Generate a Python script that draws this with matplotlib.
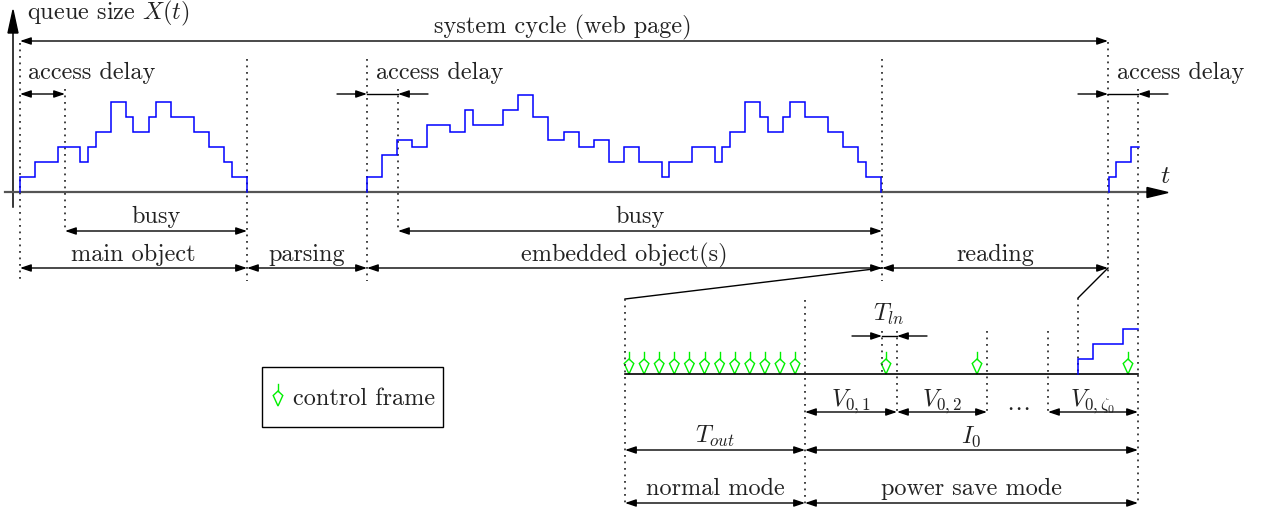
import matplotlib
matplotlib.use("Agg")
import matplotlib.pyplot as plt
from matplotlib.patches import Rectangle, Polygon

plt.rcParams.update({
    "font.family": "cmr10",
    "mathtext.fontset": "cm",
    "axes.unicode_minus": False,
})

FS = 17.5
INK = "#222222"
BLUE = "#0000ff"
GREEN = "#00f000"

# ---- queue traces: slot edges (slot index) and queue size per slot ----------
MAIN_EDGES = [0, 2, 5, 8, 9, 10, 12, 14, 15, 17, 18, 20, 23, 25, 27, 28, 30]
MAIN_LEVELS = [2, 4, 6, 4, 6, 8, 12, 10, 8, 10, 12, 10, 8, 6, 4, 2]
EMB_EDGES = [0, 2, 4, 6, 8, 11, 13, 14, 18, 20, 22, 24, 26, 28, 30, 32, 34,
             36, 39, 40, 43, 46, 47, 48, 50, 52, 53, 55, 56, 58, 61, 63, 65,
             66, 68]
EMB_LEVELS = [2, 5, 7, 6, 9, 8, 11, 9, 11, 13, 10, 7, 8, 6, 7, 4, 6, 4, 2, 4,
              6, 4, 6, 8, 12, 10, 8, 10, 12, 10, 8, 6, 4, 2]
NEXT_EDGES = [0, 1, 3, 4]
NEXT_LEVELS = [2, 4, 6]

# control frames: normal mode beacons (every slot pair) and power-save ones
CF_NORMAL = list(range(12))
CF_PSM = [886, 977, 1128]

# time marks of the cycle on the top axis
T_START, T_MAIN_END, T_EMB_START, T_EMB_END, T_NEXT = 20, 247, 367, 882, 1108
ACC1, ACC2, ACC3 = 65, 398, 1138

SLOT = 7.56
LEVEL = 7.5
BASE = 192.5

fig = plt.figure(figsize=(12.62, 5.11), dpi=100)
ax = fig.add_axes([0, 0, 1, 1])
ax.set_xlim(0, 1262)
ax.set_ylim(511, 0)
ax.axis("off")


def stairs(x0, edges, levels, xs, base, close=True):
    xe = [x0 + e * xs for e in edges]
    px, py = [xe[0]], [base]
    for i, lv in enumerate(levels):
        y = base - lv * LEVEL
        px += [xe[i], xe[i + 1]]
        py += [y, y]
    if close:
        px.append(xe[-1])
        py.append(base)
    ax.plot(px, py, color=BLUE, lw=1.1, solid_joinstyle="miter", zorder=4)


def harrow(x0, x1, y, style="<|-|>"):
    ax.annotate("", xy=(x1, y), xytext=(x0, y),
                arrowprops=dict(arrowstyle=f"{style},head_length=0.65,head_width=0.22",
                                mutation_scale=10, lw=1.0, color="black",
                                shrinkA=0, shrinkB=0))


def inward(x0, x1, y, out=30):
    harrow(x0 - out, x0, y, "-|>")
    ax.plot([x0, x1], [y, y], color="black", lw=1.0)
    harrow(x1 + out, x1, y, "-|>")


def vdot(x, y0, y1):
    ax.plot([x, x], [y0, y1], color="#333333", lw=1.3,
            linestyle=(0, (1, 2.6)), zorder=2)


def label(x, y, s, ha="center"):
    ax.text(x, y, s, fontsize=FS, color=INK, ha=ha, va="baseline")


def ctrl_frame(x, base):
    ax.plot([x, x], [base - 22, base - 15], color=GREEN, lw=1.0)
    ax.add_patch(Polygon([(x, base - 15), (x - 4.8, base - 10.5), (x, base),
                          (x + 4.8, base - 10.5)], closed=True, fill=False,
                         edgecolor=GREEN, lw=1.0))


# ---- axes -------------------------------------------------------------------
ax.plot([5, 1150], [BASE, BASE], color="#555555", lw=1.6, zorder=3)
ax.add_patch(Polygon([(1147, BASE - 5), (1168, BASE), (1147, BASE + 5)],
                     closed=True, color="black", zorder=3))
ax.plot([13, 13], [207, 30], color="black", lw=1.1)
ax.add_patch(Polygon([(8, 33), (13, 10), (18, 33)], closed=True, color="black"))
ax.text(1160, 183, r"$t$", fontsize=FS + 1, color=INK, ha="left", va="baseline")
label(27, 19, r"queue size $X(t)$", ha="left")

# ---- queue traces -----------------------------------------------------------
stairs(T_START, MAIN_EDGES, MAIN_LEVELS, SLOT, BASE)
stairs(T_EMB_START, EMB_EDGES, EMB_LEVELS, SLOT, BASE)
stairs(T_NEXT + 0.5, NEXT_EDGES, NEXT_LEVELS, SLOT, BASE, close=False)

# ---- dotted markers (top) ---------------------------------------------------
vdot(T_START, 43, 281)
vdot(ACC1, 89, 231)
vdot(T_MAIN_END, 59, 281)
vdot(T_EMB_START, 59, 281)
vdot(ACC2, 89, 231)
vdot(T_EMB_END, 59, 281)
vdot(T_NEXT, 42, 281)
vdot(ACC3, 89, 505)

# ---- top arrows -------------------------------------------------------------
harrow(T_START, T_NEXT, 41)
label(563, 33, "system cycle (web page)")
harrow(T_START, ACC1, 94)
label(28, 79, "access delay", ha="left")
inward(T_EMB_START, ACC2, 94)
label(376, 79, "access delay", ha="left")
inward(T_NEXT, ACC3, 94)
label(1117, 79, "access delay", ha="left")

harrow(ACC1, T_MAIN_END, 231)
label((ACC1 + T_MAIN_END) / 2, 223, "busy")
harrow(ACC2, T_EMB_END, 231)
label((ACC2 + T_EMB_END) / 2, 223, "busy")

harrow(T_START, T_MAIN_END, 268)
label((T_START + T_MAIN_END) / 2, 261, "main object")
harrow(T_MAIN_END, T_EMB_START, 268)
label((T_MAIN_END + T_EMB_START) / 2, 261, "parsing")
harrow(T_EMB_START, T_EMB_END, 268)
label((T_EMB_START + T_EMB_END) / 2, 261, "embedded object(s)")
harrow(T_EMB_END, T_NEXT, 268)
label((T_EMB_END + T_NEXT) / 2, 261, "reading")

# ---- zoom of the reading period ---------------------------------------------
Z0, Z1, Z2, Z3 = 625, 805, 1078, 1138
ZB = 374
ax.plot([Z0, T_EMB_END], [299, 268], color="black", lw=1.0)
ax.plot([Z2, T_NEXT], [298, 268], color="black", lw=1.0)
ax.plot([Z0, Z3], [ZB, ZB], color="black", lw=1.2, zorder=3)

vdot(Z0, 299, 505)
vdot(Z1, 300, 505)
vdot(Z2, 298, ZB)
V_EDGES = [Z1, 897, 987, 1048, Z3]
vdot(882, 331, ZB)
for x in V_EDGES[1:4]:
    vdot(x, 331, 415)

stairs(Z2, NEXT_EDGES, NEXT_LEVELS, 15.1, ZB, close=False)

for i in CF_NORMAL:
    ctrl_frame(629 + 15.1 * i, ZB)
for x in CF_PSM:
    ctrl_frame(x, ZB)

inward(882, 897, 336, out=30)
label(889, 321, r"$T_{ln}$")

harrow(V_EDGES[0], V_EDGES[1], 412)
label((V_EDGES[0] + V_EDGES[1]) / 2, 406, r"$V_{0,1}$")
harrow(V_EDGES[1], V_EDGES[2], 412)
label((V_EDGES[1] + V_EDGES[2]) / 2, 406, r"$V_{0,2}$")
label((V_EDGES[2] + V_EDGES[3]) / 2, 410, r"$\ldots$")
harrow(V_EDGES[3], V_EDGES[4], 412)
label((V_EDGES[3] + V_EDGES[4]) / 2, 406, r"$V_{0,\zeta_0}$")

harrow(Z0, Z1, 450)
label((Z0 + Z1) / 2, 443, r"$T_{out}$")
harrow(Z1, Z3, 450)
label((Z1 + Z3) / 2, 443, r"$I_0$")

harrow(Z0, Z1, 503)
label((Z0 + Z1) / 2, 495, "normal mode")
harrow(Z1, Z3, 503)
label((Z1 + Z3) / 2, 495, "power save mode")

# ---- legend box -------------------------------------------------------------
ax.add_patch(Rectangle((262, 367), 181, 60, fill=False, edgecolor="black", lw=1.0))
ctrl_frame(278, 406)
label(293, 405, "control frame", ha="left")

fig.savefig("out.png", dpi=100)
